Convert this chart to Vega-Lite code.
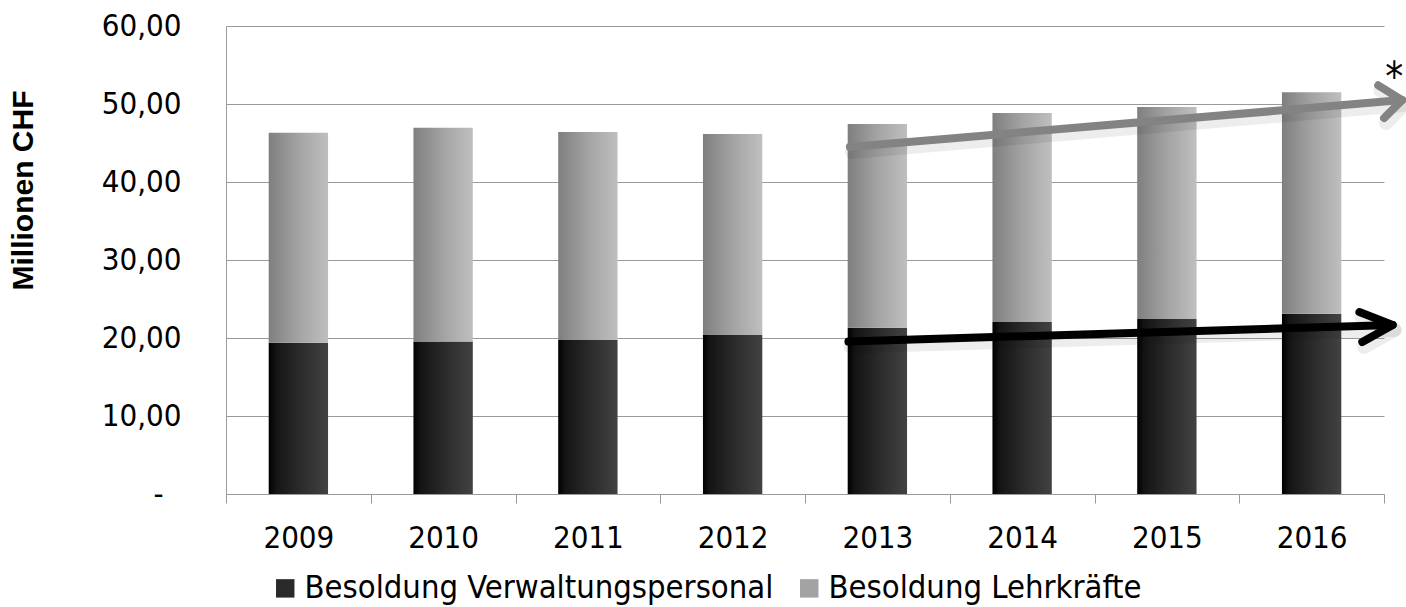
{
  "$schema": "https://vega.github.io/schema/vega-lite/v6.json",
  "autosize": "none",
  "width": 1158,
  "height": 468,
  "padding": {"left": 226, "top": 26, "right": 22, "bottom": 113},
  "background": "white",
  "config": {
    "view": {"stroke": null},
    "font": "DejaVu Sans Condensed, DejaVu Sans, sans-serif"
  },
  "datasets": {
    "besoldung": [
      {"jahr": "2009", "kategorie": "Besoldung Verwaltungspersonal", "mio": 19.40},
      {"jahr": "2010", "kategorie": "Besoldung Verwaltungspersonal", "mio": 19.55},
      {"jahr": "2011", "kategorie": "Besoldung Verwaltungspersonal", "mio": 19.75},
      {"jahr": "2012", "kategorie": "Besoldung Verwaltungspersonal", "mio": 20.40},
      {"jahr": "2013", "kategorie": "Besoldung Verwaltungspersonal", "mio": 21.30},
      {"jahr": "2014", "kategorie": "Besoldung Verwaltungspersonal", "mio": 22.05},
      {"jahr": "2015", "kategorie": "Besoldung Verwaltungspersonal", "mio": 22.45},
      {"jahr": "2016", "kategorie": "Besoldung Verwaltungspersonal", "mio": 23.10},
      {"jahr": "2009", "kategorie": "Besoldung Lehrkräfte", "mio": 26.90},
      {"jahr": "2010", "kategorie": "Besoldung Lehrkräfte", "mio": 27.40},
      {"jahr": "2011", "kategorie": "Besoldung Lehrkräfte", "mio": 26.65},
      {"jahr": "2012", "kategorie": "Besoldung Lehrkräfte", "mio": 25.75},
      {"jahr": "2013", "kategorie": "Besoldung Lehrkräfte", "mio": 26.15},
      {"jahr": "2014", "kategorie": "Besoldung Lehrkräfte", "mio": 26.80},
      {"jahr": "2015", "kategorie": "Besoldung Lehrkräfte", "mio": 27.15},
      {"jahr": "2016", "kategorie": "Besoldung Lehrkräfte", "mio": 28.40}
    ],
    "trend": [
      {"pfeil": "Lehrkräfte", "teil": "schaft", "seq": 0, "pos": 4.31, "mio": 44.5},
      {"pfeil": "Lehrkräfte", "teil": "schaft", "seq": 1, "pos": 8.125, "mio": 50.5},
      {"pfeil": "Lehrkräfte", "teil": "spitze", "seq": 0, "pos": 7.96, "mio": 52.4},
      {"pfeil": "Lehrkräfte", "teil": "spitze", "seq": 1, "pos": 8.125, "mio": 50.5},
      {"pfeil": "Lehrkräfte", "teil": "spitze", "seq": 2, "pos": 8.0, "mio": 48.2},
      {"pfeil": "Verwaltung", "teil": "schaft", "seq": 0, "pos": 4.3, "mio": 19.55},
      {"pfeil": "Verwaltung", "teil": "schaft", "seq": 1, "pos": 8.06, "mio": 21.67},
      {"pfeil": "Verwaltung", "teil": "spitze", "seq": 0, "pos": 7.83, "mio": 23.33},
      {"pfeil": "Verwaltung", "teil": "spitze", "seq": 1, "pos": 8.06, "mio": 21.67},
      {"pfeil": "Verwaltung", "teil": "spitze", "seq": 2, "pos": 7.85, "mio": 19.49}
    ],
    "hinweis": [
      {"pos": 8.07, "mio": 51.7, "text": "*"}
    ]
  },
  "layer": [
    {
      "data": {"name": "besoldung"},
      "transform": [
        {"stack": "mio", "groupby": ["jahr"], "sort": [{"field": "kategorie", "order": "descending"}], "as": ["y0", "y1"]}
      ],
      "mark": {"type": "bar", "width": {"band": 0.41}, "opacity": 0},
      "encoding": {
        "x": {
          "field": "jahr",
          "type": "ordinal",
          "scale": {"paddingInner": 0, "paddingOuter": 0},
          "axis": {
            "title": null,
            "labelAngle": 0,
            "labelFontSize": 31,
            "labelColor": "#000000",
            "labelPadding": 20,
            "tickBand": "extent",
            "tickSize": 9,
            "tickColor": "#9a9a9a",
            "domainColor": "#9a9a9a",
            "grid": false
          }
        },
        "y": {
          "field": "y0",
          "type": "quantitative",
          "scale": {"domain": [0, 60], "nice": false},
          "axis": {
            "title": "Millionen CHF",
            "titleFontSize": 30,
            "titleFontWeight": "bold",
            "titleFont": "Liberation Sans",
            "titleColor": "#000000",
            "titleAngle": -90,
            "titleX": -203,
            "titleY": 164,
            "titleAlign": "center",
            "titleBaseline": "middle",
            "values": [0, 10, 20, 30, 40, 50, 60],
            "labelExpr": "datum.value === 0 ? '-' : replace(format(datum.value, '.2f'), '.', ',')",
            "labelFontSize": 31,
            "labelColor": "#000000",
            "labelPadding": {"condition": {"test": "datum.value === 0", "value": 63}, "value": 45},
            "ticks": false,
            "tickSize": 0,
            "domainColor": "#9a9a9a",
            "gridColor": "#9a9a9a",
            "gridWidth": 1
          }
        },
        "y2": {"field": "y1"},
        "color": {
          "field": "kategorie",
          "type": "nominal",
          "scale": {
            "domain": ["Besoldung Verwaltungspersonal", "Besoldung Lehrkräfte"],
            "range": ["#2a2a2a", "#a3a3a3"]
          },
          "legend": {
            "title": null,
            "orient": "none",
            "direction": "horizontal",
            "legendX": 43,
            "legendY": 546,
            "symbolType": "square",
            "symbolSize": 340,
            "symbolStrokeWidth": 0,
            "symbolOpacity": 1,
            "labelFontSize": 32.5,
            "labelColor": "#000000",
            "labelOffset": 3,
            "labelLimit": 600,
            "columnPadding": 19,
            "encoding": {
              "symbols": {
                "fill": {
                  "condition": {
                    "test": "datum.value === 'Besoldung Verwaltungspersonal'",
                    "value": {"gradient": "linear", "x1": 0, "y1": 0, "x2": 1, "y2": 0, "stops": [{"offset": 0, "color": "#000000"}, {"offset": 0.15, "color": "#151515"}, {"offset": 1, "color": "#454545"}]}
                  },
                  "value": {"gradient": "linear", "x1": 0, "y1": 0, "x2": 1, "y2": 0, "stops": [{"offset": 0, "color": "#808080"}, {"offset": 1, "color": "#c2c2c2"}]}
                }
              }
            }
          }
        }
      }
    },
    {
      "data": {"name": "besoldung"},
      "transform": [
        {"stack": "mio", "groupby": ["jahr"], "sort": [{"field": "kategorie", "order": "descending"}], "as": ["y0", "y1"]},
        {"filter": "datum.kategorie === 'Besoldung Verwaltungspersonal'"}
      ],
      "mark": {
        "type": "bar",
        "width": {"band": 0.41},
        "color": {"gradient": "linear", "x1": 0, "x2": 1, "y1": 0, "y2": 0, "stops": [
          {"offset": 0, "color": "#000000"},
          {"offset": 0.12, "color": "#141414"},
          {"offset": 0.55, "color": "#2c2c2c"},
          {"offset": 1, "color": "#424242"}
        ]}
      },
      "encoding": {
        "x": {"field": "jahr", "type": "ordinal", "scale": {"paddingInner": 0, "paddingOuter": 0}, "axis": null},
        "y": {"field": "y0", "type": "quantitative"},
        "y2": {"field": "y1"}
      }
    },
    {
      "data": {"name": "besoldung"},
      "transform": [
        {"stack": "mio", "groupby": ["jahr"], "sort": [{"field": "kategorie", "order": "descending"}], "as": ["y0", "y1"]},
        {"filter": "datum.kategorie === 'Besoldung Lehrkräfte'"}
      ],
      "mark": {
        "type": "bar",
        "width": {"band": 0.41},
        "color": {"gradient": "linear", "x1": 0, "x2": 1, "y1": 0, "y2": 0, "stops": [
          {"offset": 0, "color": "#7f7f7f"},
          {"offset": 0.5, "color": "#a3a3a3"},
          {"offset": 1, "color": "#bfbfbf"}
        ]}
      },
      "encoding": {
        "x": {"field": "jahr", "type": "ordinal", "scale": {"paddingInner": 0, "paddingOuter": 0}, "axis": null},
        "y": {"field": "y0", "type": "quantitative"},
        "y2": {"field": "y1"}
      }
    },
    {
      "data": {"name": "trend"},
      "transform": [{"filter": "datum.pfeil === 'Lehrkräfte'"}],
      "mark": {"type": "line", "stroke": "#000000", "opacity": 0.07, "strokeWidth": 14, "strokeCap": "round", "strokeJoin": "round", "xOffset": 2, "yOffset": 5},
      "encoding": {
        "x": {"field": "pos", "type": "quantitative", "scale": {"domain": [0, 8], "nice": false, "zero": false}, "axis": null},
        "y": {"field": "mio", "type": "quantitative"},
        "detail": {"field": "teil"},
        "order": {"field": "seq"}
      }
    },
    {
      "data": {"name": "trend"},
      "transform": [{"filter": "datum.pfeil === 'Verwaltung'"}],
      "mark": {"type": "line", "stroke": "#000000", "opacity": 0.07, "strokeWidth": 14, "strokeCap": "round", "strokeJoin": "round", "xOffset": 2, "yOffset": 5},
      "encoding": {
        "x": {"field": "pos", "type": "quantitative", "scale": {"domain": [0, 8], "nice": false, "zero": false}, "axis": null},
        "y": {"field": "mio", "type": "quantitative"},
        "detail": {"field": "teil"},
        "order": {"field": "seq"}
      }
    },
    {
      "data": {"name": "trend"},
      "transform": [{"filter": "datum.pfeil === 'Lehrkräfte'"}],
      "mark": {"type": "line", "stroke": "#838383", "strokeWidth": 8, "strokeCap": "round", "strokeJoin": "round"},
      "encoding": {
        "x": {"field": "pos", "type": "quantitative", "scale": {"domain": [0, 8], "nice": false, "zero": false}, "axis": null},
        "y": {"field": "mio", "type": "quantitative"},
        "detail": {"field": "teil"},
        "order": {"field": "seq"}
      }
    },
    {
      "data": {"name": "trend"},
      "transform": [{"filter": "datum.pfeil === 'Verwaltung'"}],
      "mark": {"type": "line", "stroke": "#000000", "strokeWidth": 8, "strokeCap": "round", "strokeJoin": "round"},
      "encoding": {
        "x": {"field": "pos", "type": "quantitative", "scale": {"domain": [0, 8], "nice": false, "zero": false}, "axis": null},
        "y": {"field": "mio", "type": "quantitative"},
        "detail": {"field": "teil"},
        "order": {"field": "seq"}
      }
    },
    {
      "data": {"name": "hinweis"},
      "mark": {"type": "text", "fontSize": 40, "color": "#000000", "align": "center", "baseline": "alphabetic"},
      "encoding": {
        "x": {"field": "pos", "type": "quantitative", "scale": {"domain": [0, 8], "nice": false, "zero": false}, "axis": null},
        "y": {"field": "mio", "type": "quantitative"},
        "text": {"field": "text"}
      }
    }
  ],
  "resolve": {"scale": {"x": "independent"}, "axis": {"x": "independent"}}
}
